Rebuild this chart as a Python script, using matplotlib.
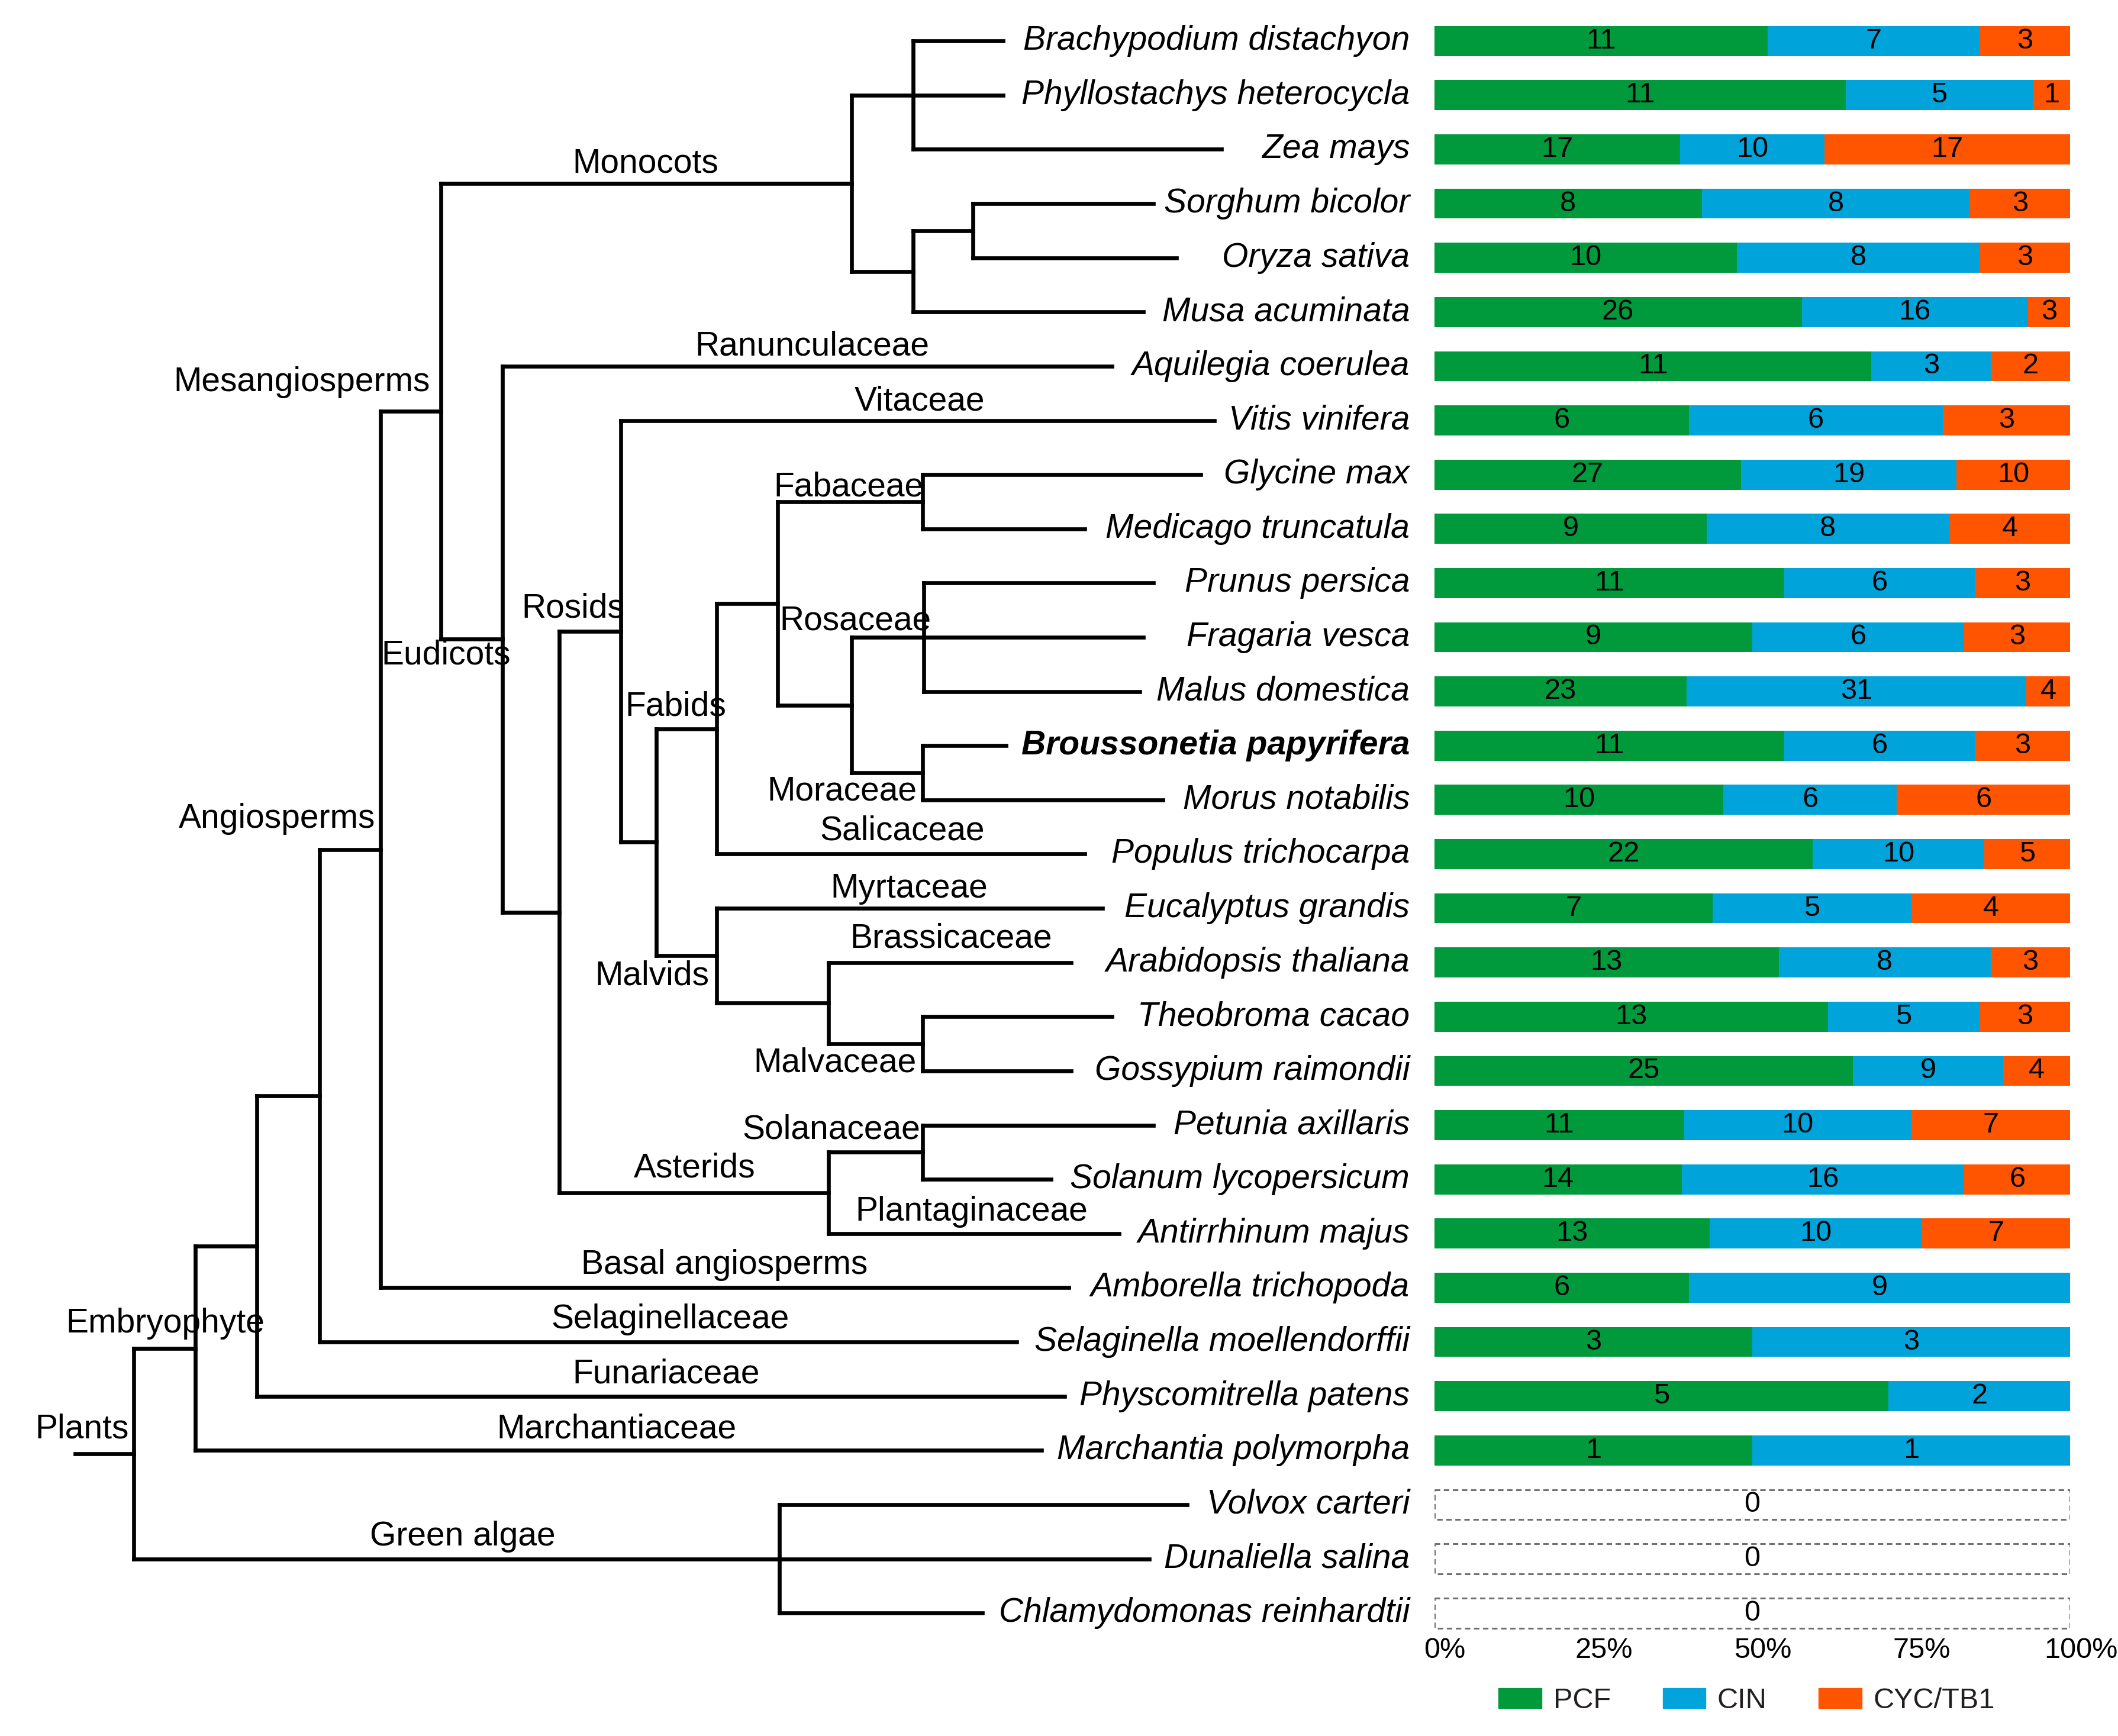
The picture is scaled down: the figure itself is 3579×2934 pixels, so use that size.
import numpy as np
import matplotlib.pyplot as plt
from matplotlib.patches import Patch
from matplotlib.transforms import ScaledTranslation

# species (top to bottom) and TCP subfamily counts
species = ['Brachypodium distachyon', 'Phyllostachys heterocycla', 'Zea mays',
           'Sorghum bicolor', 'Oryza sativa', 'Musa acuminata', 'Aquilegia coerulea',
           'Vitis vinifera', 'Glycine max', 'Medicago truncatula', 'Prunus persica',
           'Fragaria vesca', 'Malus domestica', 'Broussonetia papyrifera',
           'Morus notabilis', 'Populus trichocarpa', 'Eucalyptus grandis',
           'Arabidopsis thaliana', 'Theobroma cacao', 'Gossypium raimondii',
           'Petunia axillaris', 'Solanum lycopersicum', 'Antirrhinum majus',
           'Amborella trichopoda', 'Selaginella moellendorffii', 'Physcomitrella patens',
           'Marchantia polymorpha', 'Volvox carteri', 'Dunaliella salina',
           'Chlamydomonas reinhardtii']
pcf = [11, 11, 17, 8, 10, 26, 11, 6, 27, 9, 11, 9, 23, 11, 10, 22, 7, 13, 13, 25,
       11, 14, 13, 6, 3, 5, 1, 0, 0, 0]
cin = [7, 5, 10, 8, 8, 16, 3, 6, 19, 8, 6, 6, 31, 6, 6, 10, 5, 8, 5, 9,
       10, 16, 10, 9, 3, 2, 1, 0, 0, 0]
cyc = [3, 1, 17, 3, 3, 3, 2, 3, 10, 4, 3, 3, 4, 3, 6, 5, 4, 3, 3, 4,
       7, 6, 7, 0, 0, 0, 0, 0, 0, 0]
groups = ['PCF', 'CIN', 'CYC/TB1']
colors = ['#009a3d', '#00a4db', '#ff5400']
ticks = [0, 0.25, 0.5, 0.75, 1.0]
tick_labels = ['0%', '25%', '50%', '75%', '100%']

# tree topology: (node x, children); ints are species rows
tree = (98, [
    (143, [
        (188, [
            (234, [
                (279, [
                    (323, [
                        (624, [(669, [0, 1, 2]), (669, [(713, [3, 4]), 5])]),
                        (368, [
                            6,
                            (410, [
                                (455, [
                                    7,
                                    (481, [
                                        (525, [
                                            (570, [(676, [8, 9]),
                                                   (624, [(677, [10, 11, 12]),
                                                          (676, [13, 14])])]),
                                            15]),
                                        (525, [16, (607, [17, (676, [18, 19])])]),
                                    ]),
                                ]),
                                (607, [(676, [20, 21]), 22]),
                            ]),
                        ]),
                    ]),
                    23]),
                24]),
            25]),
        26]),
    (571, [27, 28, 29]),
])
leaf_end = [735, 735, 895, 845, 862, 838, 815, 890, 880, 795, 845, 838, 835, 737,
            852, 795, 808, 785, 815, 785, 845, 770, 820, 783, 745, 780, 763, 870,
            842, 720]
clade_labels = [('Monocots', 473, 120), ('Mesangiosperms', 221, 280),
                ('Ranunculaceae', 595, 254), ('Vitaceae', 674, 294),
                ('Fabaceae', 622, 357), ('Rosids', 420, 446), ('Rosaceae', 627, 455),
                ('Eudicots', 327, 480), ('Fabids', 495, 518), ('Moraceae', 617, 580),
                ('Angiosperms', 203, 600), ('Salicaceae', 661, 609),
                ('Myrtaceae', 666, 651), ('Brassicaceae', 697, 688),
                ('Malvids', 478, 715), ('Malvaceae', 612, 779),
                ('Solanaceae', 609, 828), ('Asterids', 509, 856),
                ('Plantaginaceae', 712, 888), ('Basal angiosperms', 531, 927),
                ('Selaginellaceae', 491, 967), ('Embryophyte', 121, 970),
                ('Funariaceae', 488, 1007), ('Plants', 60, 1047),
                ('Marchantiaceae', 452, 1047), ('Green algae', 339, 1126)]

W, H = 1552, 1272
row_y = 30 + 39.72 * np.arange(len(species))
FONT = ['Liberation Sans', 'DejaVu Sans']
LW = 4.8

fig = plt.figure(figsize=(35.79, 29.34), dpi=100)
ax = fig.add_axes([0, 0, 1, 1])
ax.set_xlim(0, W)
ax.set_ylim(H, 0)
ax.axis('off')


def draw(node, px):
    if isinstance(node, int):
        y = row_y[node]
        ax.plot([px, leaf_end[node]], [y, y], 'k-', lw=LW, solid_capstyle='projecting')
        return y
    x, kids = node
    ys = [draw(k, x) for k in kids]
    y = np.mean(ys)
    ax.plot([x, x], [min(ys), max(ys)], 'k-', lw=LW, solid_capstyle='projecting')
    ax.plot([px, x], [y, y], 'k-', lw=LW, solid_capstyle='projecting')
    return y


draw(tree, 55)

for name, x, y in clade_labels:
    ax.text(x, y, name, ha='center', va='center', fontsize=41, family=FONT)

for i, name in enumerate(species):
    bold = name.startswith('Broussonetia')
    ax.text(1033, row_y[i], name, ha='right', va='center', fontsize=41,
            family=FONT, style='italic', weight='bold' if bold else 'normal')

# stacked percentage bars
bx = fig.add_axes([1051 / W, 1 - 1196 / H, 466 / W, 1196 / H])
bx.set_xlim(0, 1)
bx.set_ylim(1196, 0)
counts = np.array([pcf, cin, cyc], dtype=float)
tot = counts.sum(axis=0)
frac = np.divide(counts, tot, out=np.zeros_like(counts), where=tot > 0)
left = np.zeros(len(species))
for k in range(3):
    bars = bx.barh(row_y, frac[k], left=left, height=22, color=colors[k], lw=0)
    labs = [str(int(v)) if v > 0 else '' for v in counts[k]]
    bx.bar_label(bars, labels=labs, label_type='center', fontsize=35, family=FONT)
    left += frac[k]
empty = tot == 0
boxes = bx.barh(row_y[empty], 1, height=22, fill=False, edgecolor='#707070',
                lw=2.2, linestyle=(0, (3, 2)))
bx.bar_label(boxes, labels=['0'] * empty.sum(), label_type='center', fontsize=35,
             family=FONT)

for s in bx.spines.values():
    s.set_visible(False)
bx.set_yticks([])
bx.set_xticks(ticks)
bx.set_xticklabels(tick_labels, fontsize=35, family=FONT)
bx.tick_params(axis='x', length=0, pad=6)
off = ScaledTranslation(0.18, 0, fig.dpi_scale_trans)
for t in bx.get_xticklabels():
    t.set_transform(t.get_transform() + off)

handles = [Patch(color=c) for c in colors]
fig.legend(handles, groups, loc='center', bbox_to_anchor=(1280 / W, 1 - 1246 / H),
           ncol=3, frameon=False, handlelength=1.5, handleheight=0.7,
           handletextpad=0.4, columnspacing=1.8,
           prop={'family': FONT, 'size': 35}, labelcolor='#231f20')

fig.savefig('out.png', dpi=100)
